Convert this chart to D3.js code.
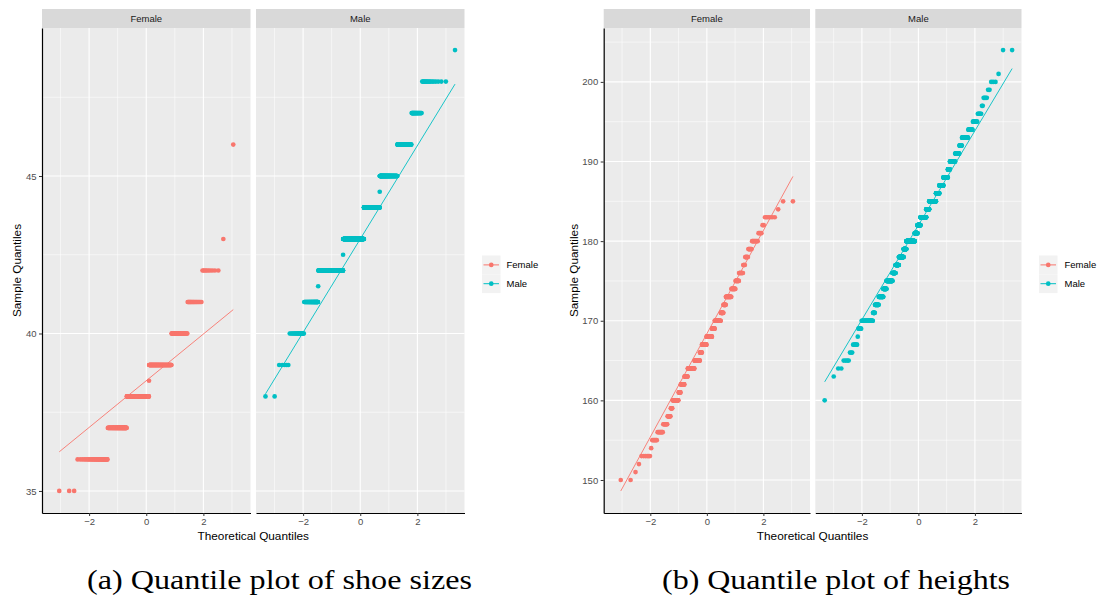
<!DOCTYPE html>
<html>
<head>
<meta charset="utf-8">
<script src="https://cdn.jsdelivr.net/npm/d3@7"></script>
<style>
  html, body { margin: 0; padding: 0; background: #ffffff; }
  svg { display: block; }
</style>
</head>
<body>
<svg id="fig" width="1101" height="599"></svg>
<script>
// ---- data: observed values and how many times each occurs ----
const groups = ["Female", "Male"];
const groupColors = ["#F8766D", "#00BFC4"];

const femaleShoeSizes  = [35, 36, 37, 38, 38.5, 39, 40, 41, 42, 43, 46];
const femaleShoeCounts = [3, 35, 68, 125, 1, 117, 49, 21, 9, 1, 1];

const maleShoeSizes  = [38, 39, 40, 41, 41.5, 42, 42.5, 43, 44, 44.5, 45, 46, 47, 48, 49];
const maleShoeCounts = [2, 5, 20, 50, 1, 223, 1, 304, 221, 1, 165, 67, 23, 16, 1];

const femaleHeights = [150, 151, 152, 153, 154, 155, 156, 157, 158, 159, 160, 161,
                       162, 163, 164, 165, 166, 167, 168, 169, 170, 171, 172, 173,
                       174, 175, 176, 177, 178, 179, 180, 181, 182, 183, 184, 185];
const femaleHeightCounts = [2, 1, 1, 6, 1, 6, 9, 9, 8, 5, 20, 8,
                            16, 15, 35, 31, 12, 28, 33, 16, 34, 14, 12, 25,
                            16, 12, 12, 5, 7, 7, 9, 4, 2, 6, 1, 2];

const maleHeights = [160, 163, 164, 165, 166, 167, 168, 169, 170, 171, 172, 173,
                     174, 175, 176, 177, 178, 179, 180, 181, 182, 183, 184, 185,
                     186, 187, 188, 189, 190, 191, 192, 193, 194, 195, 196, 197,
                     198, 199, 200, 201, 204];
const maleHeightCounts = [1, 1, 2, 4, 3, 6, 1, 6, 35, 9, 20, 30,
                          24, 55, 33, 39, 61, 38, 125, 42, 47, 88, 44, 92,
                          42, 45, 43, 18, 40, 25, 13, 25, 13, 10, 6, 2,
                          4, 2, 3, 1, 2];

const quantileXTicks = [-2, 0, 2];
const shoeYTicks = [35, 40, 45];
const heightYTicks = [150, 160, 170, 180, 190, 200];

const xTitle = "Theoretical Quantiles";
const yTitle = "Sample Quantiles";
const captionA = "(a) Quantile plot of shoe sizes";
const captionB = "(b) Quantile plot of heights";

// ---- helpers ----
// inverse of the standard normal CDF (Acklam's rational approximation)
function qnorm(p) {
  const a = [-3.969683028665376e+01, 2.209460984245205e+02, -2.759285104469687e+02,
              1.383577518672690e+02, -3.066479806614716e+01, 2.506628277459239e+00];
  const b = [-5.447609879822406e+01, 1.615858368580409e+02, -1.556989798598866e+02,
              6.680131188771972e+01, -1.328068155288572e+01];
  const c = [-7.784894002430293e-03, -3.223964580411365e-01, -2.400758277161838e+00,
             -2.549732539343734e+00, 4.374664141464968e+00, 2.938163982698783e+00];
  const d = [7.784695709041462e-03, 3.224671290700398e-01, 2.445134137142996e+00,
             3.754408661907416e+00];
  const pl = 0.02425, ph = 1 - pl;
  let q, r;
  if (p < pl) {
    q = Math.sqrt(-2 * Math.log(p));
    return (((((c[0]*q+c[1])*q+c[2])*q+c[3])*q+c[4])*q+c[5]) / ((((d[0]*q+d[1])*q+d[2])*q+d[3])*q+1);
  }
  if (p <= ph) {
    q = p - 0.5; r = q * q;
    return (((((a[0]*r+a[1])*r+a[2])*r+a[3])*r+a[4])*r+a[5])*q / (((((b[0]*r+b[1])*r+b[2])*r+b[3])*r+b[4])*r+1);
  }
  q = Math.sqrt(-2 * Math.log(1 - p));
  return -(((((c[0]*q+c[1])*q+c[2])*q+c[3])*q+c[4])*q+c[5]) / ((((d[0]*q+d[1])*q+d[2])*q+d[3])*q+1);
}

// sorted sample paired with normal plotting positions (i - 0.5) / n
function qqPoints(values, counts) {
  const sample = [];
  values.forEach((v, i) => { for (let k = 0; k < counts[i]; k++) sample.push(v); });
  sample.sort(d3.ascending);
  const n = sample.length;
  return sample.map((s, i) => ({ theo: qnorm((i + 0.5) / n), sample: s }));
}

// reference line through the first and third quartiles
function qqLine(points) {
  const s = points.map(p => p.sample);
  const y1 = d3.quantileSorted(s, 0.25), y2 = d3.quantileSorted(s, 0.75);
  const x1 = qnorm(0.25), x2 = qnorm(0.75);
  const slope = (y2 - y1) / (x2 - x1);
  const icpt = y1 - slope * x1;
  const [lo, hi] = d3.extent(points, p => p.theo);
  return [{ theo: lo, sample: icpt + slope * lo }, { theo: hi, sample: icpt + slope * hi }];
}

function minorTicks(major) {
  const step = major[1] - major[0];
  return major.map(v => v - step / 2).concat([major[major.length - 1] + step / 2]);
}

function expand(ext) {
  const pad = (ext[1] - ext[0]) * 0.05;
  return [ext[0] - pad, ext[1] + pad];
}

const svg = d3.select("#fig");
const FONT = "'Liberation Sans', Arial, Helvetica, sans-serif";

function drawChart(cfg) {
  const series = cfg.series.map((s, gi) => {
    const pts = qqPoints(s.values, s.counts);
    return { name: groups[gi], color: groupColors[gi], pts, line: qqLine(pts) };
  });

  const allTheo = series.flatMap(s => s.pts.map(p => p.theo));
  const allY = series.flatMap(s => s.pts.map(p => p.sample).concat(s.line.map(p => p.sample)));
  const xDomain = expand(d3.extent(allTheo));
  const yDomain = expand(d3.extent(allY));

  const y = d3.scaleLinear().domain(yDomain).range([cfg.bottom, cfg.top]);
  const yMinor = minorTicks(cfg.yTicks).filter(v => v > yDomain[0] && v < yDomain[1]);
  const xMinor = minorTicks(quantileXTicks).filter(v => v > xDomain[0] && v < xDomain[1]);

  const g = svg.append("g");

  series.forEach((s, i) => {
    const [x0, x1] = cfg.panels[i];
    const x = d3.scaleLinear().domain(xDomain).range([x0, x1]);
    const p = g.append("g");

    // panel background and grid
    p.append("rect").attr("x", x0).attr("y", cfg.top)
      .attr("width", x1 - x0).attr("height", cfg.bottom - cfg.top).attr("fill", "#EBEBEB");
    p.selectAll(".hminor").data(yMinor).join("line")
      .attr("x1", x0).attr("x2", x1).attr("y1", d => y(d)).attr("y2", d => y(d))
      .attr("stroke", "#ffffff").attr("stroke-width", 0.55);
    p.selectAll(".vminor").data(xMinor).join("line")
      .attr("x1", d => x(d)).attr("x2", d => x(d)).attr("y1", cfg.top).attr("y2", cfg.bottom)
      .attr("stroke", "#ffffff").attr("stroke-width", 0.55);
    p.selectAll(".hmajor").data(cfg.yTicks).join("line")
      .attr("x1", x0).attr("x2", x1).attr("y1", d => y(d)).attr("y2", d => y(d))
      .attr("stroke", "#ffffff").attr("stroke-width", 1.1);
    p.selectAll(".vmajor").data(quantileXTicks).join("line")
      .attr("x1", d => x(d)).attr("x2", d => x(d)).attr("y1", cfg.top).attr("y2", cfg.bottom)
      .attr("stroke", "#ffffff").attr("stroke-width", 1.1);

    // sample points and reference line
    p.append("g").selectAll("circle").data(s.pts).join("circle")
      .attr("cx", d => x(d.theo)).attr("cy", d => y(d.sample)).attr("r", 2.35)
      .attr("fill", s.color);
    p.append("path").datum(s.line)
      .attr("d", d3.line().x(d => x(d.theo)).y(d => y(d.sample)))
      .attr("fill", "none").attr("stroke", s.color).attr("stroke-width", 0.9);

    // facet strip
    p.append("rect").attr("x", x0).attr("y", cfg.stripTop)
      .attr("width", x1 - x0).attr("height", cfg.top - cfg.stripTop).attr("fill", "#D9D9D9");
    p.append("text").attr("x", (x0 + x1) / 2).attr("y", (cfg.stripTop + cfg.top) / 2 + 3.4)
      .attr("text-anchor", "middle").attr("font-family", FONT).attr("font-size", 9.5)
      .attr("fill", "#1A1A1A").text(s.name);

    // bottom axis
    const ax = p.append("g").attr("transform", `translate(0,${cfg.bottom})`)
      .call(d3.axisBottom(x).tickValues(quantileXTicks).tickSize(3).tickSizeOuter(0).tickPadding(2.5));
    ax.select(".domain").attr("stroke", "#000000").attr("stroke-width", 1.2);
    ax.selectAll(".tick line").attr("stroke", "#333333").attr("stroke-width", 1);
    ax.selectAll(".tick text").attr("fill", "#4D4D4D").attr("font-family", FONT).attr("font-size", 9.5);

    if (i === 0) {
      const ay = p.append("g").attr("transform", `translate(${x0},0)`)
        .call(d3.axisLeft(y).tickValues(cfg.yTicks).tickSize(3).tickSizeOuter(0).tickPadding(2.5));
      ay.select(".domain").attr("stroke", "#000000").attr("stroke-width", 1.2);
      ay.selectAll(".tick line").attr("stroke", "#333333").attr("stroke-width", 1);
      ay.selectAll(".tick text").attr("fill", "#4D4D4D").attr("font-family", FONT).attr("font-size", 9.5);
    }
  });

  // axis titles
  const left = cfg.panels[0][0], right = cfg.panels[cfg.panels.length - 1][1];
  g.append("text").attr("x", (left + right) / 2).attr("y", cfg.xTitleY)
    .attr("text-anchor", "middle").attr("font-family", FONT).attr("font-size", 11.8)
    .attr("fill", "#000000").text(xTitle);
  g.append("text")
    .attr("transform", `translate(${cfg.yTitleX},${(cfg.top + cfg.bottom) / 2}) rotate(-90)`)
    .attr("text-anchor", "middle").attr("font-family", FONT).attr("font-size", 11.8)
    .attr("fill", "#000000").text(yTitle);

  // legend
  const lg = g.append("g").attr("transform", `translate(${cfg.legendX},${cfg.legendY})`);
  const keyH = 18.8, keyW = 18.5;
  series.forEach((s, i) => {
    const k = lg.append("g").attr("transform", `translate(0,${i * keyH})`);
    k.append("rect").attr("width", keyW).attr("height", keyH).attr("fill", "#F2F2F2");
    k.append("line").attr("x1", 1.5).attr("x2", keyW - 1.5).attr("y1", keyH / 2).attr("y2", keyH / 2)
      .attr("stroke", s.color).attr("stroke-width", 1);
    k.append("circle").attr("cx", keyW / 2).attr("cy", keyH / 2).attr("r", 2.35).attr("fill", s.color);
    k.append("text").attr("x", keyW + cfg.legendGap).attr("y", keyH / 2 + 3.4)
      .attr("font-family", FONT).attr("font-size", 9.5).attr("fill", "#000000").text(s.name);
  });

  // caption
  svg.append("text").attr("x", cfg.captionX).attr("y", 589)
    .attr("font-family", "'Liberation Serif', 'Times New Roman', serif").attr("font-size", 28)
    .attr("textLength", cfg.captionW).attr("lengthAdjust", "spacingAndGlyphs")
    .attr("fill", "#000000").text(cfg.caption);
}

drawChart({
  series: [{ values: femaleShoeSizes, counts: femaleShoeCounts },
           { values: maleShoeSizes, counts: maleShoeCounts }],
  panels: [[42, 250.5], [256, 464.5]],
  stripTop: 9, top: 28, bottom: 513,
  yTicks: shoeYTicks,
  xTitleY: 540, yTitleX: 20.5,
  legendX: 482, legendY: 255.5, legendGap: 6,
  caption: captionA, captionX: 87, captionW: 385
});

drawChart({
  series: [{ values: femaleHeights, counts: femaleHeightCounts },
           { values: maleHeights, counts: maleHeightCounts }],
  panels: [[603.7, 810], [815.3, 1021.5]],
  stripTop: 9, top: 28, bottom: 513,
  yTicks: heightYTicks,
  xTitleY: 540, yTitleX: 577.5,
  legendX: 1039, legendY: 255.5, legendGap: 7,
  caption: captionB, captionX: 662, captionW: 348
});
</script>
</body>
</html>
